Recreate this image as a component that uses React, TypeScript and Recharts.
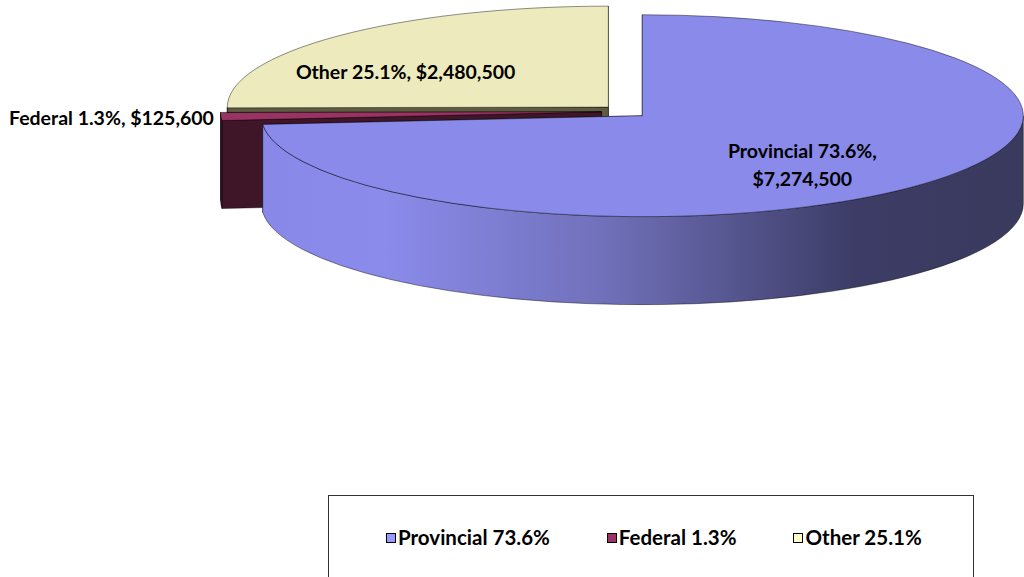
import React from 'react';
import { PieChart, Pie, Cell, Legend } from 'recharts';

// drawing order matters: the back slice first, the pulled-out one last
const categories = ['Other', 'Federal', 'Provincial'];
const amounts = [2480500, 125600, 7274500];
const legendOrder = ['Provincial', 'Federal', 'Other'];

const topColors: Record<string, string> = { Other: '#EDEBBE', Federal: '#9B3264', Provincial: '#8A8AEB' };
const faceColors: Record<string, string> = { Other: '#5E5C40', Federal: '#3F1627', Provincial: '#3C3C66' };
const legendColors: Record<string, string> = { Other: '#FFFFCC', Federal: '#993366', Provincial: '#9999FF' };

const data = categories.map((name, i) => ({ name, value: amounts[i] }));
const total = amounts.reduce((a, b) => a + b, 0);
const pct = (v: number) => ((v / total) * 100).toFixed(1) + '%';
const money = (v: number) => '$' + v.toLocaleString('en-US');

const RAD = Math.PI / 180;
const TILT = 0.265;
const DEPTH = 88;
const EXPLODE = 23.5;
const FONT = 'Lato, Calibri, sans-serif';

const pt = (cx: number, cy: number, rx: number, ry: number, a: number): [number, number] => [
  cx + rx * Math.cos(a * RAD),
  cy - ry * Math.sin(a * RAD),
];

const center = (cx: number, cy: number, mid: number): [number, number] => [
  cx + EXPLODE * Math.cos(mid * RAD),
  cy - EXPLODE * TILT * Math.sin(mid * RAD),
];

const Slice3D = (props: any) => {
  const { cx, cy, outerRadius, startAngle, endAngle } = props;
  const name: string = props.name ?? props.payload?.name;
  const s = Math.min(startAngle, endAngle);
  const e = Math.max(startAngle, endAngle);
  const mid = (s + e) / 2;
  const rx = outerRadius;
  const ry = outerRadius * TILT;
  const [ox, oy] = center(cx, cy, mid);
  const [sx, sy] = pt(ox, oy, rx, ry, s);
  const [ex, ey] = pt(ox, oy, rx, ry, e);
  const large = e - s > 180 ? 1 : 0;
  const top = `M${ox},${oy} L${sx},${sy} A${rx},${ry} 0 ${large} 0 ${ex},${ey} Z`;

  const radial = (x: number, y: number) =>
    `M${ox},${oy} L${x},${y} L${x},${y + DEPTH} L${ox},${oy + DEPTH} Z`;
  const startFront = Math.cos(s * RAD) > 0.001;
  const endFront = Math.cos(e * RAD) < -0.001;
  const faces = [
    { d: radial(sx, sy), front: startFront },
    { d: radial(ex, ey), front: endFront },
  ].sort((a, b) => Number(a.front) - Number(b.front));

  // outer wall: only the part on the front half of the rim
  const walls: string[] = [];
  for (let k = -1; k <= 2; k++) {
    const a1 = Math.max(s, 180 + 360 * k);
    const a2 = Math.min(e, 360 + 360 * k);
    if (a2 > a1) {
      const [x1, y1] = pt(ox, oy, rx, ry, a1);
      const [x2, y2] = pt(ox, oy, rx, ry, a2);
      walls.push(
        `M${x1},${y1} A${rx},${ry} 0 0 0 ${x2},${y2} L${x2},${y2 + DEPTH} A${rx},${ry} 0 0 1 ${x1},${y1 + DEPTH} Z`
      );
    }
  }
  const gid = `wall-${name}`;
  const edge = { stroke: 'rgba(0,0,0,0.55)', strokeWidth: 0.8 };

  return (
    <g>
      <defs>
        {name === 'Provincial' ? (
          <linearGradient id={gid} x1="0" y1="0" x2="1" y2="0">
            <stop offset="0%" stopColor="#8888E8" />
            <stop offset="16%" stopColor="#8B8BEB" />
            <stop offset="45%" stopColor="#7070BA" />
            <stop offset="78%" stopColor="#3C3C66" />
            <stop offset="100%" stopColor="#3A3A5E" />
          </linearGradient>
        ) : (
          <linearGradient id={gid} x1="0" y1="0" x2="1" y2="0">
            <stop offset="0%" stopColor={faceColors[name]} />
            <stop offset="100%" stopColor={faceColors[name]} />
          </linearGradient>
        )}
      </defs>
      {faces.map((f, i) => (
        <path key={i} d={f.d} fill={faceColors[name]} {...edge} />
      ))}
      {walls.map((d, i) => (
        <path key={'w' + i} d={d} fill={`url(#${gid})`} {...edge} />
      ))}
      <path d={top} fill={topColors[name]} {...edge} />
    </g>
  );
};

const renderLabel = (props: any) => {
  const { cx, cy, outerRadius, midAngle, name, value } = props;
  const rx = outerRadius;
  const ry = outerRadius * TILT;
  const [ox, oy] = center(cx, cy, midAngle);
  const style = { fontFamily: FONT, fontWeight: 700, fontSize: 19.5, fill: '#000' };
  if (name === 'Federal') {
    const [x, y] = pt(ox, oy, rx, ry, midAngle);
    return (
      <text x={x - 7} y={y + 1} textAnchor="end" dominantBaseline="central" style={style}>
        {`${name} ${pct(value)}, ${money(value)}`}
      </text>
    );
  }
  if (name === 'Other') {
    const x = ox + 0.75 * rx * Math.cos(midAngle * RAD);
    const y = oy - 0.5 * ry * Math.sin(midAngle * RAD);
    return (
      <text x={x} y={y} textAnchor="middle" dominantBaseline="central" style={style}>
        {`${name} ${pct(value)}, ${money(value)}`}
      </text>
    );
  }
  const x = ox + 0.57 * rx * Math.cos(midAngle * RAD);
  const y = oy - 0.72 * ry * Math.sin(midAngle * RAD);
  return (
    <text x={x} y={y} textAnchor="middle" style={style}>
      <tspan x={x} dy={-7}>{`${name} ${pct(value)},`}</tspan>
      <tspan x={x} dy={28}>{money(value)}</tspan>
    </text>
  );
};

const renderLegend = () => (
  <div
    style={{
      boxSizing: 'border-box',
      width: 646,
      height: 100,
      border: '1px solid #333',
      background: '#fff',
      display: 'flex',
      alignItems: 'flex-start',
      paddingTop: 29,
      fontFamily: FONT,
      fontWeight: 700,
      fontSize: 20.5,
      lineHeight: '25px',
      color: '#000',
    }}
  >
    {legendOrder.map((name, i) => (
      <div key={name} style={{ display: 'flex', alignItems: 'center', marginLeft: i === 0 ? 57 : 57 }}>
        <span
          style={{
            display: 'inline-block',
            width: 8,
            height: 8,
            border: '1px solid #000',
            background: legendColors[name],
            marginRight: 2,
          }}
        />
        <span>{`${name} ${pct(amounts[categories.indexOf(name)])}`}</span>
      </div>
    ))}
  </div>
);

export default function App() {
  return (
    <div style={{ position: 'absolute', left: 0, top: 0, width: 1024, height: 577, background: '#fff', overflow: 'hidden' }}>
      <PieChart width={1024} height={577} margin={{ top: 0, right: 0, bottom: 0, left: 0 }}>
        <Pie
          data={data}
          dataKey="value"
          nameKey="name"
          cx={625}
          cy={111.5}
          outerRadius={381}
          startAngle={90}
          endAngle={450}
          stroke="none"
          shape={Slice3D}
          label={renderLabel}
          labelLine={false}
          isAnimationActive={false}
        >
          {data.map((d) => (
            <Cell key={d.name} fill={topColors[d.name]} />
          ))}
        </Pie>
        <Legend
          content={renderLegend}
          wrapperStyle={{ position: 'absolute', left: 328, top: 495, width: 646, height: 100 }}
        />
      </PieChart>
    </div>
  );
}
